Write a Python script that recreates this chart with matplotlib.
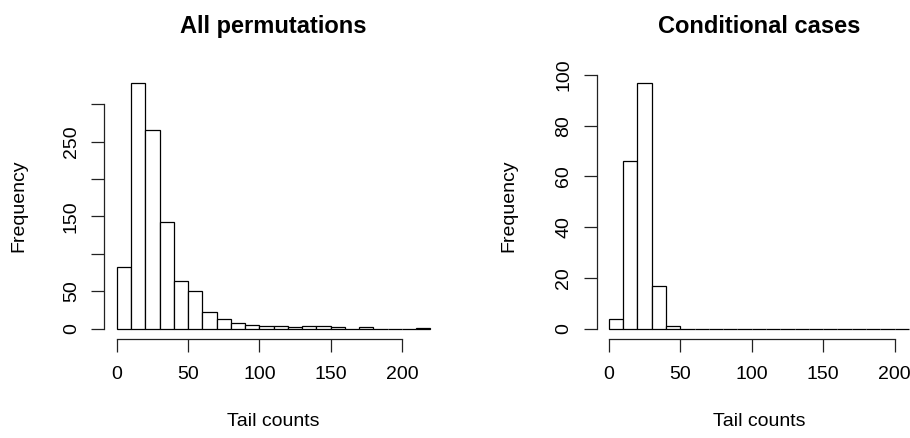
import numpy as np
import matplotlib
matplotlib.use("Agg")
import matplotlib.pyplot as plt

plt.rcParams['font.family'] = ['Liberation Sans', 'DejaVu Sans']

# ---- data ----
breaks_all = [0, 10, 20, 30, 40, 50, 60, 70, 80, 90, 100, 110, 120, 130, 140,
              150, 160, 170, 180, 190, 200, 210, 220]
counts_all = [83, 329, 265, 142, 64, 50, 22, 13, 7, 5, 4, 3, 2, 3, 3, 2, 0, 2,
              0, 0, 0, 1]
breaks_cond = [0, 10, 20, 30, 40, 50, 60, 70, 80, 90, 100, 110, 120, 130, 140,
               150, 160, 170, 180, 190, 200, 210]
counts_cond = [4, 66, 97, 17, 1, 0, 0, 0, 0, 0, 0, 0, 0, 0, 0, 0, 0, 0, 0, 0, 0]
xticks = [0, 50, 100, 150, 200]
yticks_all = [0, 50, 100, 150, 200, 250, 300]
ylabels_all = ['0', '50', '', '150', '', '250', '']
yticks_cond = [0, 20, 40, 60, 80, 100]
ylabels_cond = ['0', '20', '40', '60', '80', '100']
titles = ["All permutations", "Conditional cases"]
xlab = "Tail counts"
ylab = "Frequency"

W, H = 910, 438
fig = plt.figure(figsize=(W / 100, H / 100), dpi=100)

TICK_FS = 14.0
TITLE_FS = 17.0
LW = 0.9


def r_range(lo, hi):
    pad = 0.04 * (hi - lo)
    return lo - pad, hi + pad


def make_panel(left_px, width_px, breaks, counts, yticks, ylabels, title,
               ylab_x):
    top_px, bottom_px = 72.8, 338.5
    ax = fig.add_axes([left_px / W, (H - bottom_px) / H, width_px / W,
                       (bottom_px - top_px) / H])
    edges = np.asarray(breaks, dtype=float)
    widths = np.diff(edges)
    ax.bar(edges[:-1], counts, width=widths, align='edge', color='white',
           edgecolor='black', linewidth=LW)
    ax.set_xlim(*r_range(edges[0], edges[-1]))
    ax.set_ylim(*r_range(0, max(counts)))
    for s in ['top', 'right']:
        ax.spines[s].set_visible(False)
    ax.spines['bottom'].set_bounds(xticks[0], xticks[-1])
    ax.spines['left'].set_bounds(yticks[0], yticks[-1])
    for s in ['bottom', 'left']:
        ax.spines[s].set_linewidth(LW)
        ax.spines[s].set_color('#222222')
    ax.set_xticks(xticks)
    ax.set_xticklabels([str(t) for t in xticks])
    ax.set_yticks(yticks)
    ax.set_yticklabels(ylabels, rotation=90, va='center')
    ax.tick_params(axis='both', direction='out', length=9.5, width=LW,
                   color='#222222', labelsize=TICK_FS)
    ax.tick_params(axis='x', pad=10)
    ax.tick_params(axis='y', pad=8)
    ax.set_title(title, fontsize=TITLE_FS, fontweight='bold', pad=29)
    ax.set_xlabel(xlab, fontsize=TICK_FS)
    ax.xaxis.label.set_verticalalignment('center')
    ax.xaxis.set_label_coords(0.5, -(421 - 338.5) / (338.5 - 72.8))
    ax.set_ylabel(ylab, fontsize=TICK_FS)
    ax.yaxis.label.set_verticalalignment('center')
    ax.yaxis.set_label_coords((ylab_x - left_px) / width_px, 0.5)
    return ax


make_panel(104.3, 338.6, breaks_all, counts_all, yticks_all, ylabels_all,
           titles[0], 19)
make_panel(596.7, 324.3, breaks_cond, counts_cond, yticks_cond, ylabels_cond,
           titles[1], 509)

fig.savefig("out.png", dpi=100)
